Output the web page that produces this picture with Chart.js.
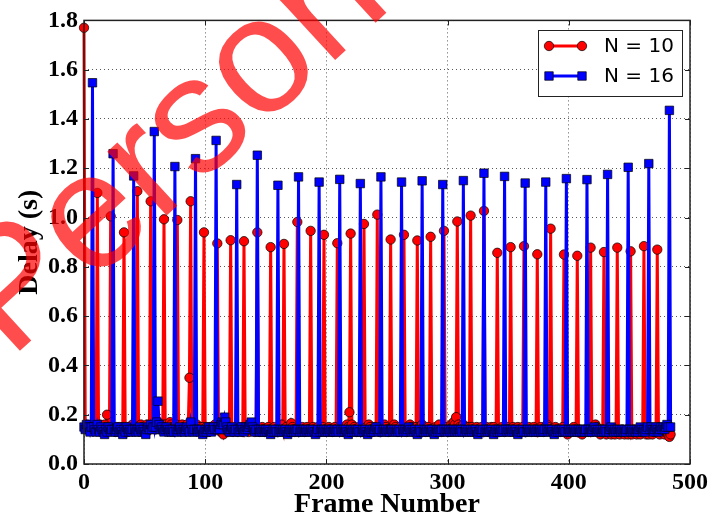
<!DOCTYPE html>
<html>
<head>
<meta charset="utf-8">
<script src="https://cdn.jsdelivr.net/npm/chart.js@4.4.1/dist/chart.umd.min.js"></script>
<style>
  html, body { margin: 0; padding: 0; background: #fff; }
  #delayChart { display: block; }
</style>
</head>
<body>
<canvas id="delayChart" width="712" height="523"></canvas>
<script>
// Delay (s) per frame, N = 10 -- one row is 11 frames, the first value of a row is the spike
const delayN10 = [
  1.77, 0.15, 0.14, 0.16, 0.15, 0.14, 0.15, 0.16, 0.14, 0.15, 0.14,
  1.10, 0.15, 0.16, 0.14, 0.15, 0.14, 0.16, 0.15, 0.20, 0.15, 0.14,
  1.005, 0.14, 0.15, 0.14, 0.13, 0.15, 0.14, 0.15, 0.14, 0.13, 0.15,
  0.94, 0.14, 0.15, 0.13, 0.14, 0.15, 0.14, 0.16, 0.15, 0.14, 0.15,
  1.107, 0.15, 0.14, 0.16, 0.15, 0.14, 0.15, 0.14, 0.16, 0.15, 0.14,
  1.066, 0.15, 0.16, 0.15, 0.14, 0.16, 0.17, 0.15, 0.14, 0.16, 0.15,
  0.993, 0.16, 0.15, 0.14, 0.15, 0.17, 0.16, 0.15, 0.14, 0.15, 0.16,
  0.99, 0.15, 0.14, 0.15, 0.16, 0.15, 0.14, 0.15, 0.16, 0.15, 0.35,
  1.066, 0.15, 0.14, 0.15, 0.14, 0.16, 0.15, 0.14, 0.15, 0.14, 0.15,
  0.94, 0.14, 0.15, 0.14, 0.13, 0.15, 0.14, 0.15, 0.14, 0.16, 0.15,
  0.895, 0.14, 0.15, 0.13, 0.14, 0.12, 0.14, 0.15, 0.14, 0.13, 0.14,
  0.908, 0.14, 0.13, 0.14, 0.15, 0.14, 0.13, 0.14, 0.15, 0.14, 0.13,
  0.904, 0.14, 0.15, 0.14, 0.13, 0.14, 0.15, 0.16, 0.14, 0.13, 0.14,
  0.94, 0.14, 0.13, 0.14, 0.15, 0.14, 0.13, 0.14, 0.14, 0.15, 0.14,
  0.88, 0.13, 0.14, 0.15, 0.14, 0.13, 0.14, 0.15, 0.14, 0.16, 0.14,
  0.893, 0.14, 0.15, 0.14, 0.13, 0.14, 0.166, 0.15, 0.14, 0.13, 0.14,
  0.982, 0.14, 0.13, 0.14, 0.15, 0.14, 0.13, 0.14, 0.15, 0.14, 0.14,
  0.946, 0.14, 0.15, 0.14, 0.13, 0.14, 0.15, 0.14, 0.13, 0.14, 0.15,
  0.93, 0.14, 0.13, 0.14, 0.15, 0.14, 0.14, 0.13, 0.14, 0.15, 0.14,
  0.896, 0.14, 0.15, 0.14, 0.13, 0.14, 0.15, 0.14, 0.16, 0.15, 0.21,
  0.935, 0.16, 0.14, 0.15, 0.14, 0.13, 0.14, 0.15, 0.14, 0.13, 0.14,
  0.974, 0.14, 0.15, 0.14, 0.16, 0.15, 0.14, 0.13, 0.14, 0.15, 0.14,
  1.012, 0.14, 0.13, 0.14, 0.15, 0.14, 0.16, 0.15, 0.14, 0.13, 0.14,
  0.911, 0.14, 0.15, 0.16, 0.15, 0.14, 0.13, 0.14, 0.15, 0.14, 0.14,
  0.93, 0.14, 0.13, 0.14, 0.15, 0.16, 0.15, 0.14, 0.13, 0.14, 0.15,
  0.907, 0.14, 0.15, 0.14, 0.16, 0.15, 0.14, 0.13, 0.14, 0.15, 0.14,
  0.922, 0.14, 0.13, 0.14, 0.15, 0.14, 0.15, 0.16, 0.14, 0.13, 0.14,
  0.946, 0.14, 0.15, 0.14, 0.13, 0.14, 0.16, 0.15, 0.17, 0.16, 0.19,
  0.984, 0.16, 0.15, 0.14, 0.15, 0.16, 0.15, 0.14, 0.15, 0.14, 0.15,
  1.008, 0.15, 0.14, 0.13, 0.14, 0.15, 0.14, 0.13, 0.14, 0.15, 0.14,
  1.027, 0.14, 0.15, 0.14, 0.13, 0.14, 0.15, 0.14, 0.15, 0.14, 0.13,
  0.857, 0.14, 0.13, 0.14, 0.15, 0.14, 0.13, 0.14, 0.15, 0.14, 0.14,
  0.88, 0.14, 0.15, 0.14, 0.13, 0.14, 0.15, 0.14, 0.13, 0.14, 0.15,
  0.884, 0.14, 0.13, 0.14, 0.15, 0.14, 0.13, 0.14, 0.15, 0.14, 0.13,
  0.851, 0.13, 0.14, 0.15, 0.14, 0.13, 0.14, 0.15, 0.16, 0.15, 0.14,
  0.955, 0.14, 0.13, 0.14, 0.15, 0.14, 0.13, 0.14, 0.13, 0.14, 0.15,
  0.85, 0.14, 0.13, 0.12, 0.13, 0.14, 0.13, 0.14, 0.15, 0.14, 0.13,
  0.845, 0.13, 0.14, 0.13, 0.12, 0.13, 0.14, 0.13, 0.14, 0.13, 0.14,
  0.878, 0.13, 0.14, 0.15, 0.16, 0.15, 0.14, 0.13, 0.12, 0.13, 0.14,
  0.86, 0.13, 0.12, 0.13, 0.14, 0.13, 0.12, 0.14, 0.13, 0.12, 0.13,
  0.878, 0.13, 0.12, 0.13, 0.14, 0.13, 0.12, 0.13, 0.14, 0.12, 0.13,
  0.863, 0.12, 0.13, 0.14, 0.13, 0.12, 0.13, 0.14, 0.12, 0.13, 0.14,
  0.884, 0.13, 0.12, 0.13, 0.12, 0.14, 0.13, 0.12, 0.13, 0.14, 0.13,
  0.87, 0.13, 0.12, 0.13, 0.14, 0.13, 0.12, 0.13, 0.14, 0.12, 0.11,
  0.12
];

// Delay (s) per frame, N = 16 -- frames 0-6, then rows of 17 frames starting with the spike
const delayN16 = [
  0.15, 0.14, 0.16, 0.14, 0.15, 0.13, 0.15,
  1.547, 0.15, 0.14, 0.13, 0.16, 0.14, 0.13, 0.15, 0.14, 0.13, 0.12, 0.14, 0.13, 0.15, 0.14, 0.13, 0.14,
  1.259, 0.14, 0.13, 0.14, 0.15, 0.13, 0.14, 0.13, 0.12, 0.14, 0.13, 0.15, 0.14, 0.13, 0.14, 0.13, 0.14,
  1.169, 0.14, 0.13, 0.14, 0.13, 0.15, 0.14, 0.13, 0.14, 0.13, 0.12, 0.14, 0.15, 0.14, 0.16, 0.14, 0.15,
  1.349, 0.15, 0.17, 0.255, 0.16, 0.14, 0.15, 0.14, 0.13, 0.14, 0.15, 0.14, 0.13, 0.14, 0.13, 0.14, 0.13,
  1.207, 0.14, 0.13, 0.14, 0.15, 0.14, 0.13, 0.14, 0.13, 0.14, 0.15, 0.14, 0.13, 0.17, 0.14, 0.13, 0.14,
  1.239, 0.14, 0.13, 0.14, 0.13, 0.14, 0.12, 0.13, 0.14, 0.13, 0.14, 0.15, 0.14, 0.13, 0.14, 0.15, 0.14,
  1.313, 0.14, 0.15, 0.14, 0.16, 0.17, 0.16, 0.19, 0.17, 0.15, 0.14, 0.13, 0.14, 0.15, 0.14, 0.13, 0.14,
  1.134, 0.14, 0.13, 0.14, 0.15, 0.14, 0.13, 0.14, 0.15, 0.14, 0.15, 0.16, 0.17, 0.15, 0.14, 0.13, 0.14,
  1.253, 0.14, 0.13, 0.14, 0.13, 0.14, 0.13, 0.14, 0.13, 0.14, 0.13, 0.12, 0.13, 0.14, 0.13, 0.14, 0.13,
  1.131, 0.13, 0.14, 0.13, 0.14, 0.13, 0.14, 0.13, 0.12, 0.13, 0.14, 0.13, 0.14, 0.13, 0.14, 0.13, 0.14,
  1.165, 0.13, 0.14, 0.13, 0.14, 0.13, 0.14, 0.13, 0.14, 0.13, 0.14, 0.13, 0.14, 0.13, 0.12, 0.13, 0.14,
  1.144, 0.13, 0.14, 0.13, 0.14, 0.13, 0.14, 0.13, 0.14, 0.13, 0.14, 0.13, 0.13, 0.14, 0.13, 0.14, 0.13,
  1.155, 0.14, 0.13, 0.14, 0.13, 0.14, 0.13, 0.12, 0.13, 0.14, 0.13, 0.14, 0.13, 0.14, 0.13, 0.14, 0.13,
  1.138, 0.13, 0.14, 0.13, 0.14, 0.13, 0.12, 0.13, 0.14, 0.13, 0.14, 0.13, 0.14, 0.15, 0.14, 0.13, 0.14,
  1.165, 0.13, 0.14, 0.13, 0.14, 0.13, 0.14, 0.13, 0.14, 0.14, 0.13, 0.14, 0.13, 0.14, 0.13, 0.14, 0.13,
  1.144, 0.14, 0.13, 0.14, 0.13, 0.14, 0.15, 0.14, 0.13, 0.14, 0.13, 0.14, 0.13, 0.12, 0.13, 0.14, 0.13,
  1.149, 0.13, 0.14, 0.13, 0.14, 0.13, 0.14, 0.13, 0.14, 0.13, 0.12, 0.13, 0.14, 0.13, 0.14, 0.13, 0.14,
  1.134, 0.14, 0.13, 0.14, 0.13, 0.14, 0.13, 0.14, 0.13, 0.14, 0.13, 0.14, 0.13, 0.14, 0.13, 0.14, 0.13,
  1.15, 0.13, 0.14, 0.13, 0.14, 0.13, 0.14, 0.13, 0.14, 0.13, 0.14, 0.13, 0.12, 0.13, 0.14, 0.13, 0.14,
  1.18, 0.13, 0.14, 0.13, 0.14, 0.13, 0.14, 0.13, 0.12, 0.13, 0.14, 0.13, 0.14, 0.13, 0.14, 0.13, 0.14,
  1.167, 0.14, 0.13, 0.14, 0.13, 0.14, 0.13, 0.14, 0.13, 0.14, 0.13, 0.12, 0.13, 0.14, 0.13, 0.14, 0.13,
  1.14, 0.13, 0.14, 0.13, 0.14, 0.13, 0.14, 0.13, 0.14, 0.13, 0.14, 0.13, 0.14, 0.13, 0.14, 0.13, 0.14,
  1.144, 0.14, 0.13, 0.14, 0.13, 0.14, 0.13, 0.12, 0.13, 0.14, 0.13, 0.14, 0.13, 0.14, 0.13, 0.14, 0.13,
  1.158, 0.13, 0.14, 0.13, 0.14, 0.13, 0.14, 0.13, 0.14, 0.13, 0.14, 0.13, 0.14, 0.13, 0.14, 0.13, 0.14,
  1.154, 0.14, 0.13, 0.14, 0.13, 0.14, 0.15, 0.14, 0.13, 0.14, 0.13, 0.14, 0.13, 0.14, 0.13, 0.14, 0.13,
  1.175, 0.13, 0.14, 0.15, 0.14, 0.13, 0.14, 0.13, 0.14, 0.13, 0.14, 0.13, 0.14, 0.13, 0.14, 0.13, 0.14,
  1.204, 0.14, 0.13, 0.14, 0.13, 0.14, 0.13, 0.14, 0.13, 0.14, 0.15, 0.14, 0.13, 0.14, 0.13, 0.14, 0.15,
  1.219, 0.14, 0.15, 0.14, 0.13, 0.14, 0.15, 0.14, 0.13, 0.14, 0.15, 0.14, 0.15, 0.14, 0.15, 0.16, 0.15,
  1.435, 0.15
];

const seriesLabels = ['N = 10', 'N = 16'];
const xTickValues = [0, 100, 200, 300, 400, 500];
const yTickValues = [0, 0.2, 0.4, 0.6, 0.8, 1.0, 1.2, 1.4, 1.6, 1.8];
const watermarkText = 'Personal';

// frame number = position in the array
const toPoints = arr => arr.map((y, frame) => ({ x: frame, y: y }));

const tickFont = { family: '"Liberation Serif", "Times New Roman", serif', size: 24, weight: 'bold' };
const titleFont = { family: '"Liberation Serif", "Times New Roman", serif', size: 28, weight: 'bold' };
const gridStyle = { color: 'rgba(0,0,0,0.65)', lineWidth: 1, drawTicks: false };

// box round the plot and the small inward ticks on all four sides
const plotFrame = {
  id: 'plotFrame',
  afterDatasetsDraw(chart) {
    const { ctx, chartArea: a, scales } = chart;
    ctx.save();
    ctx.strokeStyle = '#222';
    ctx.lineWidth = 1;
    ctx.beginPath();
    xTickValues.forEach(v => {
      const px = Math.round(scales.x.getPixelForValue(v)) + 0.5;
      ctx.moveTo(px, a.bottom); ctx.lineTo(px, a.bottom - 5);
      ctx.moveTo(px, a.top); ctx.lineTo(px, a.top + 5);
    });
    yTickValues.forEach(v => {
      const py = Math.round(scales.y.getPixelForValue(v)) + 0.5;
      ctx.moveTo(a.left, py); ctx.lineTo(a.left + 5, py);
      ctx.moveTo(a.right, py); ctx.lineTo(a.right - 5, py);
    });
    ctx.stroke();
    ctx.lineWidth = 1.5;
    ctx.strokeRect(a.left, a.top, a.right - a.left, a.bottom - a.top);
    ctx.restore();
  }
};

// matplotlib-like legend: line with a marker at each end
const lineLegend = {
  id: 'lineLegend',
  afterDatasetsDraw(chart) {
    const ctx = chart.ctx;
    ctx.save();
    ctx.fillStyle = '#fff';
    ctx.fillRect(538, 30, 144, 66);
    ctx.strokeStyle = '#222';
    ctx.lineWidth = 1;
    ctx.strokeRect(538.5, 30.5, 144, 66);
    chart.data.datasets.forEach((ds, i) => {
      const y = 46 + i * 30;
      ctx.strokeStyle = ds.borderColor;
      ctx.lineWidth = ds.borderWidth;
      ctx.beginPath();
      ctx.moveTo(549, y);
      ctx.lineTo(582, y);
      ctx.stroke();
      [549, 582].forEach(x => {
        ctx.fillStyle = ds.pointBackgroundColor;
        ctx.strokeStyle = ds.pointBorderColor;
        ctx.lineWidth = ds.pointBorderWidth;
        ctx.beginPath();
        if (ds.pointStyle === 'rect') {
          const s = ds.pointRadius * Math.SQRT1_2;
          ctx.rect(x - s, y - s, 2 * s, 2 * s);
        } else {
          ctx.arc(x, y, ds.pointRadius, 0, Math.PI * 2);
        }
        ctx.fill();
        ctx.stroke();
      });
      ctx.fillStyle = '#000';
      ctx.font = '20px "DejaVu Sans", sans-serif';
      ctx.textBaseline = 'middle';
      ctx.fillText(seriesLabels[i], 604, y + 1);
    });
    ctx.restore();
  }
};

// red diagonal watermark over the whole picture
const watermark = {
  id: 'watermark',
  afterDraw(chart) {
    const ctx = chart.ctx;
    ctx.save();
    ctx.translate(10, 360);
    ctx.rotate(-42.7 * Math.PI / 180);
    ctx.font = '165px "Liberation Sans", Arial, sans-serif';
    ctx.fillStyle = 'rgba(255,0,0,0.7)';
    ctx.textBaseline = 'alphabetic';
    ctx.fillText(watermarkText, 0, 0);
    ctx.restore();
  }
};

new Chart(document.getElementById('delayChart'), {
  type: 'line',
  data: {
    datasets: [
      {
        label: seriesLabels[0],
        data: toPoints(delayN10),
        borderColor: '#ff0000',
        borderWidth: 3,
        pointStyle: 'circle',
        pointRadius: 4.7,
        pointBackgroundColor: '#ff0000',
        pointBorderColor: '#000',
        pointBorderWidth: 0.7,
        tension: 0,
        clip: false,
        order: 1
      },
      {
        label: seriesLabels[1],
        data: toPoints(delayN16),
        borderColor: '#0000ff',
        borderWidth: 3,
        pointStyle: 'rect',
        pointRadius: 6,
        pointBackgroundColor: '#0000ff',
        pointBorderColor: '#000',
        pointBorderWidth: 0.7,
        tension: 0,
        clip: false,
        order: 0
      }
    ]
  },
  options: {
    responsive: false,
    animation: false,
    devicePixelRatio: 1,
    events: [],
    layout: { padding: { top: 20, right: 20, left: 0, bottom: 0 } },
    plugins: {
      legend: { display: false },
      tooltip: { enabled: false }
    },
    scales: {
      x: {
        type: 'linear',
        min: 0,
        max: 500,
        afterBuildTicks: scale => { scale.ticks = xTickValues.map(v => ({ value: v })); },
        afterFit: scale => { scale.height = 59; },
        ticks: { font: tickFont, color: '#000', padding: 4, maxRotation: 0 },
        grid: gridStyle,
        border: { display: false, dash: [1, 3] },
        title: { display: true, text: 'Frame Number', font: titleFont, color: '#000', padding: { top: 0, bottom: 1 } }
      },
      y: {
        type: 'linear',
        min: 0,
        max: 1.8,
        afterBuildTicks: scale => { scale.ticks = yTickValues.map(v => ({ value: v })); },
        afterFit: scale => { scale.width = 84; },
        ticks: { font: tickFont, color: '#000', padding: 6, callback: v => v.toFixed(1) },
        grid: gridStyle,
        border: { display: false, dash: [1, 3] },
        title: { display: true, text: 'Delay (s)', font: titleFont, color: '#000', padding: { top: 13, bottom: 0 } }
      }
    }
  },
  plugins: [plotFrame, lineLegend, watermark]
});
</script>
</body>
</html>
